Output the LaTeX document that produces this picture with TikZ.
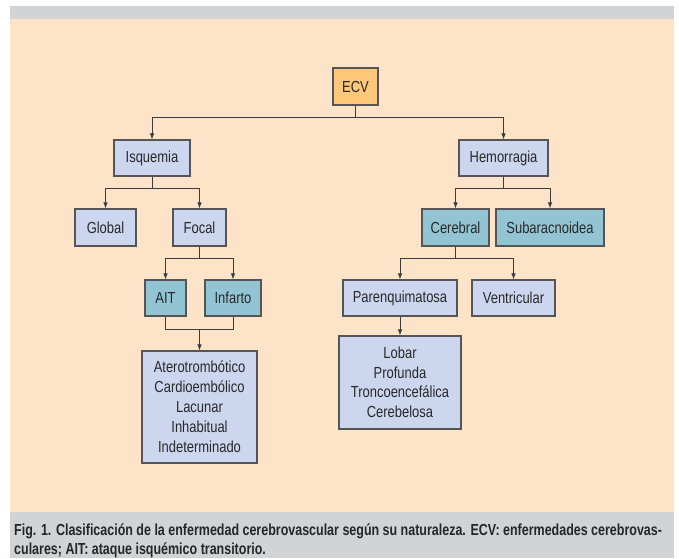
\documentclass[tikz,border=0pt]{standalone}
\usepackage{fontspec}
\setmainfont{Liberation Sans}[FakeStretch=0.81]
\newfontfamily\capfont{Liberation Sans}[FakeStretch=0.78]
\usetikzlibrary{arrows.meta}
\definecolor{peach}{RGB}{253,227,200}
\definecolor{bandgray}{RGB}{209,211,212}
\definecolor{lblue}{RGB}{204,214,238}
\definecolor{teal}{RGB}{146,196,212}
\definecolor{orng}{RGB}{253,200,122}
\definecolor{brd}{RGB}{85,85,85}
\definecolor{txt}{RGB}{40,40,40}
\definecolor{ln}{RGB}{60,60,60}
\tikzset{
  bx/.style={draw=brd, line width=1.1pt, fill=lblue, inner sep=0pt, text=txt,
    font=\fontsize{16}{20}\selectfont, align=center},
  tbx/.style={bx, fill=teal},
  obx/.style={bx, fill=orng},
  arr/.style={draw=ln, line width=0.9pt, -{Latex[length=6pt,width=4.5pt]}},
  ln/.style={draw=ln, line width=0.9pt},
  captxt/.style={anchor=base west, inner sep=0pt, text=black!85, font=\capfont\bfseries\fontsize{16}{19}\selectfont}
}
\begin{document}
\begin{tikzpicture}[x=1pt,y=-1pt]
\useasboundingbox (0,0) rectangle (679,558);
\fill[white] (0,0) rectangle (679,558);
\fill[bandgray] (10,6) rectangle (674,19);
\fill[peach] (10,19) rectangle (674,512);
\fill[bandgray] (10,512) rectangle (674,558);

\node[obx, minimum width=45pt, minimum height=37pt] (ecv) at (355.5,86.5) {ECV};
\node[bx, minimum width=76pt, minimum height=36pt] (isq) at (152,158) {Isquemia};
\node[bx, minimum width=89pt, minimum height=36pt] (hem) at (503.5,158) {Hemorragia};
\node[bx, minimum width=61pt, minimum height=37pt] (glo) at (105.5,227.5) {Global};
\node[bx, minimum width=53pt, minimum height=37pt] (foc) at (199.5,227.5) {Focal};
\node[tbx, minimum width=67pt, minimum height=37pt] (cer) at (455.5,227.5) {Cerebral};
\node[tbx, minimum width=108pt, minimum height=37pt] (sub) at (550,227.5) {Subaracnoidea};
\node[tbx, minimum width=41pt, minimum height=36pt] (ait) at (165.5,298) {AIT};
\node[tbx, minimum width=56pt, minimum height=36pt] (inf) at (233,298) {Infarto};
\node[bx, minimum width=114pt, minimum height=36pt] (par) at (400,298) {Parenquimatosa};
\node[bx, minimum width=83pt, minimum height=36pt] (ven) at (513.5,298) {Ventricular};
\node[bx, minimum width=115pt, minimum height=112pt] (tip) at (199.5,407)
  {Aterotrombótico\\Cardioembólico\\Lacunar\\Inhabitual\\Indeterminado};
\node[bx, minimum width=122pt, minimum height=93pt, font=\fontsize{16}{19.5}\selectfont] (lob) at (400,382.5)
  {Lobar\\Profunda\\Troncoencefálica\\Cerebelosa};

\draw[arr] (ecv.south) -- ++(0,12) -| (isq.north);
\draw[arr] (ecv.south) -- ++(0,12) -| (hem.north);
\draw[arr] (isq.south) -- ++(0,12) -| (glo.north);
\draw[arr] (isq.south) -- ++(0,12) -| (foc.north);
\draw[arr] (hem.south) -- ++(0,12) -| (cer.north);
\draw[arr] (hem.south) -- ++(0,12) -| (sub.north);
\draw[arr] (foc.south) -- ++(0,12) -| (ait.north);
\draw[arr] (foc.south) -- ++(0,12) -| (inf.north);
\draw[arr] (cer.south) -- ++(0,12) -| (par.north);
\draw[arr] (cer.south) -- ++(0,12) -| (ven.north);
\coordinate (j1) at (199.5,329);
\draw[ln] (ait.south) |- (j1) -| (inf.south);
\draw[arr] (j1) -- (tip.north);
\draw[arr] (par.south) -- (lob.north);

\node[captxt] (cap1) at (14,535)
  {Fig. 1. Clasificación de la enfermedad cerebrovascular según su naturaleza. ECV: enfermedades cerebrovas-};
\node[captxt] (cap2) at (14,554)
  {culares; AIT: ataque isquémico transitorio.};
\end{tikzpicture}
\end{document}
